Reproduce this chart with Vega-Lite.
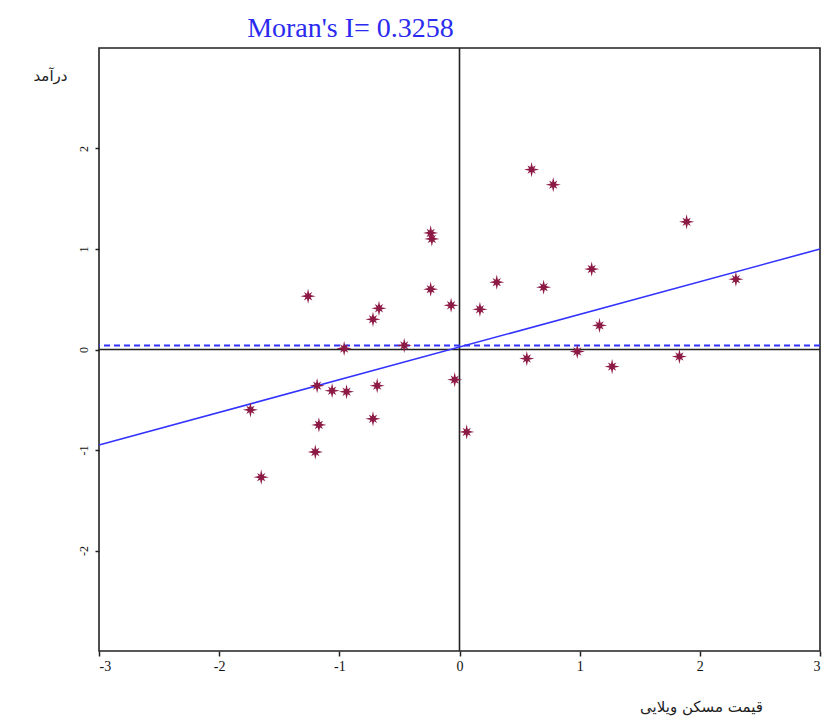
{
  "$schema": "https://vega.github.io/schema/vega-lite/v6.json",
  "width": 721,
  "height": 603,
  "autosize": {"type": "none"},
  "padding": {"left": 99, "top": 48, "right": 7, "bottom": 69},
  "background": "white",
  "config": {
    "view": {"stroke": "#222222", "strokeWidth": 1.6},
    "axis": {"grid": false, "domain": false, "labelColor": "#111111", "tickColor": "#222222", "tickWidth": 1.5, "labelFont": "Liberation Serif", "titleFont": "DejaVu Sans", "titleColor": "#222222", "titleFontWeight": "normal"}
  },
  "title": {
    "text": "Moran's I= 0.3258",
    "font": "Liberation Serif",
    "fontSize": 28,
    "fontWeight": "normal",
    "color": "#2b2bf0",
    "anchor": "middle",
    "dx": -109,
    "baseline": "alphabetic",
    "offset": 11,
    "dy": 29
  },
  "datasets": {
    "points": [
      {"z": 0.60, "wz": 1.79},
      {"z": 0.78, "wz": 1.64},
      {"z": 1.89, "wz": 1.27},
      {"z": -0.24, "wz": 1.16},
      {"z": -0.23, "wz": 1.10},
      {"z": 1.10, "wz": 0.80},
      {"z": 0.31, "wz": 0.67},
      {"z": 0.70, "wz": 0.62},
      {"z": 2.30, "wz": 0.70},
      {"z": -1.26, "wz": 0.53},
      {"z": -0.24, "wz": 0.60},
      {"z": -0.07, "wz": 0.44},
      {"z": 0.17, "wz": 0.40},
      {"z": -0.67, "wz": 0.41},
      {"z": -0.72, "wz": 0.30},
      {"z": 1.165, "wz": 0.24},
      {"z": -0.96, "wz": 0.01},
      {"z": -0.46, "wz": 0.04},
      {"z": -0.04, "wz": -0.30},
      {"z": 0.56, "wz": -0.09},
      {"z": 0.98, "wz": -0.02},
      {"z": 1.27, "wz": -0.17},
      {"z": 1.83, "wz": -0.07},
      {"z": -1.185, "wz": -0.36},
      {"z": -1.06, "wz": -0.41},
      {"z": -0.94, "wz": -0.42},
      {"z": -0.685, "wz": -0.36},
      {"z": -1.74, "wz": -0.60},
      {"z": -1.17, "wz": -0.75},
      {"z": -0.72, "wz": -0.69},
      {"z": 0.06, "wz": -0.82},
      {"z": -1.20, "wz": -1.02},
      {"z": -1.65, "wz": -1.27}
    ],
    "regline": [
      {"z": -3, "wz": -0.95},
      {"z": 3, "wz": 1.0}
    ],
    "meanline": [{"wz": 0.04}],
    "zero": [{"v": 0}]
  },
  "layer": [
    {
      "data": {"name": "zero"},
      "mark": {"type": "rule", "color": "#222222", "strokeWidth": 1.6},
      "encoding": {
        "x": {"field": "v", "type": "quantitative", "scale": {"domain": [-3, 3], "nice": false, "zero": false},
          "axis": {"values": [-3, -2, -1, 0, 1, 2, 3], "labelExpr": "datum.value + ''", "labelFontSize": 14, "tickSize": 5, "labelPadding": 3,
            "title": "قیمت مسکن ویلایی", "titleFontSize": 15, "titleAlign": "center", "titleX": 602, "titleY": 55, "titleBaseline": "middle"}}
      }
    },
    {
      "data": {"name": "zero"},
      "mark": {"type": "rule", "color": "#222222", "strokeWidth": 1.6},
      "encoding": {
        "y": {"field": "v", "type": "quantitative", "scale": {"domain": [-3, 3], "nice": false, "zero": false},
          "axis": {"values": [-2, -1, 0, 1, 2], "labelExpr": "datum.value + ''", "labelAngle": -90, "labelAlign": "center", "labelBaseline": "bottom", "labelFontSize": 12, "tickSize": 4, "labelPadding": 5,
            "title": "درآمد", "titleAngle": 0, "titleFontSize": 15, "titleAlign": "center", "titleBaseline": "middle", "titleX": -49, "titleY": 27}}
      }
    },
    {
      "data": {"name": "meanline"},
      "mark": {"type": "rule", "color": "#3333ff", "strokeWidth": 1.8, "strokeDash": [6, 4]},
      "encoding": {"y": {"field": "wz", "type": "quantitative"}}
    },
    {
      "data": {"name": "regline"},
      "mark": {"type": "line", "color": "#3333ff", "strokeWidth": 1.6},
      "encoding": {
        "x": {"field": "z", "type": "quantitative"},
        "y": {"field": "wz", "type": "quantitative"}
      }
    },
    {
      "data": {"name": "points"},
      "mark": {"type": "point", "filled": true, "color": "#8c1a45", "opacity": 1, "size": 230,
        "shape": "M1,0L0.33,0.15L0.55,0.55L0.15,0.33L0,1L-0.15,0.33L-0.55,0.55L-0.33,0.15L-1,0L-0.33,-0.15L-0.55,-0.55L-0.15,-0.33L0,-1L0.15,-0.33L0.55,-0.55L0.33,-0.15Z"},
      "encoding": {
        "x": {"field": "z", "type": "quantitative"},
        "y": {"field": "wz", "type": "quantitative"}
      }
    }
  ]
}
